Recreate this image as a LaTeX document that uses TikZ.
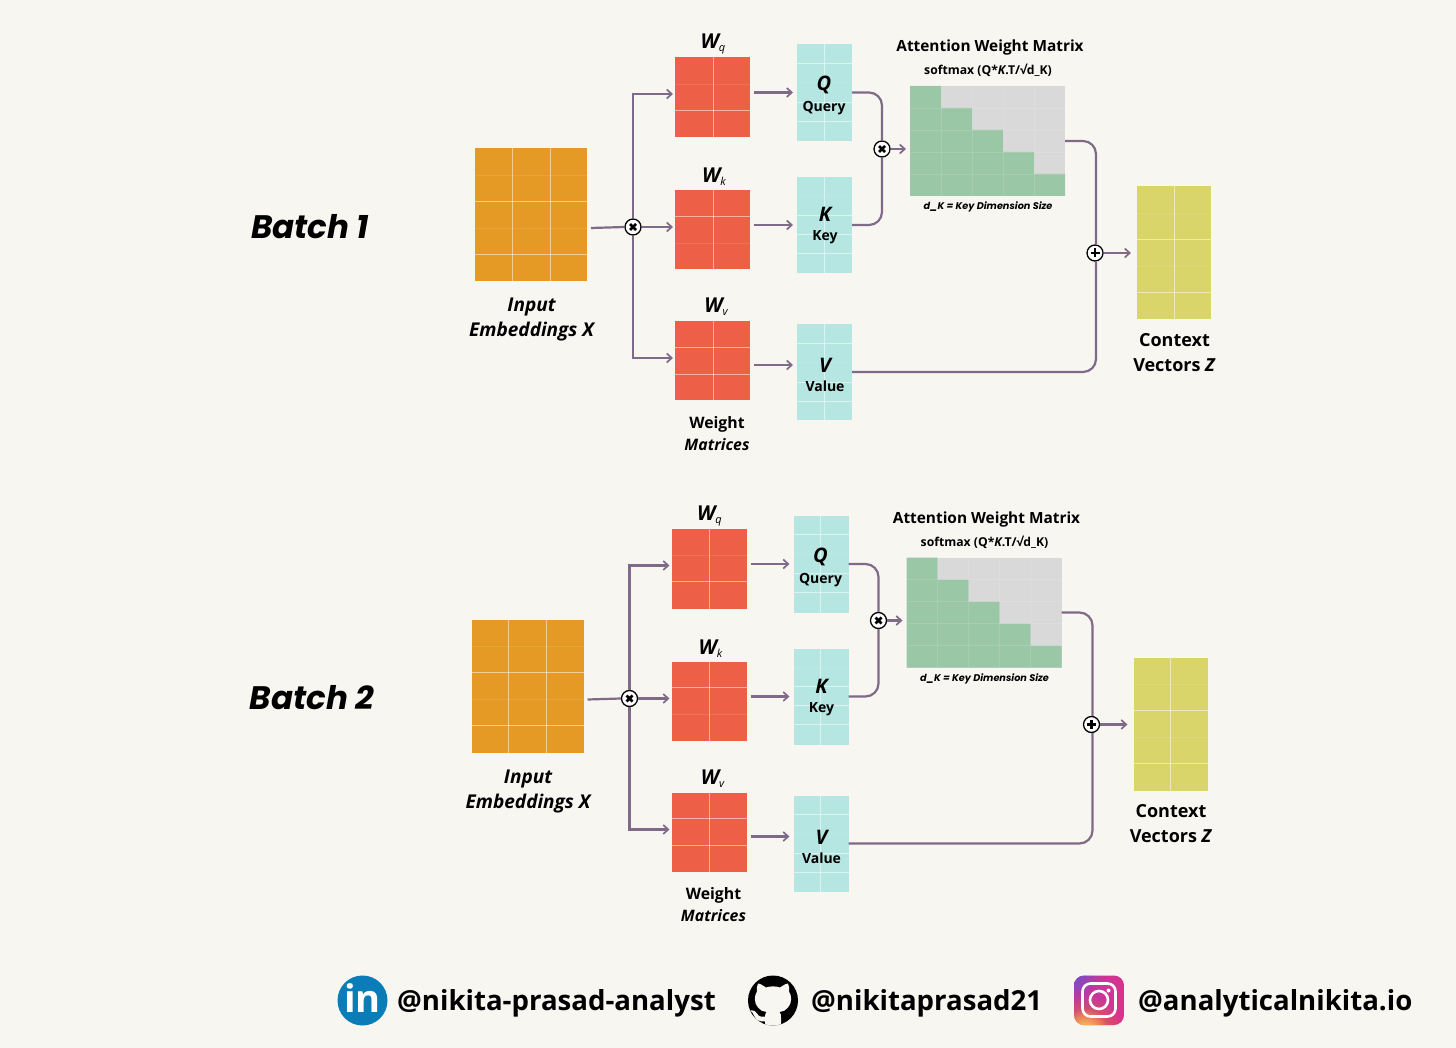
\documentclass[tikz,border=0pt]{standalone}
\usepackage{fontspec}
\setmainfont{Open Sans}
\newfontfamily\popp{Poppins}
\usetikzlibrary{arrows.meta,calc,fadings}
\definecolor{bgc}{HTML}{F8F6F1}
\definecolor{orangec}{HTML}{E59A25}
\definecolor{redc}{HTML}{EE5F47}
\definecolor{cyanc}{HTML}{B5E6E1}
\definecolor{yellowc}{HTML}{D9D56B}
\definecolor{greenc}{HTML}{9AC7A5}
\definecolor{grayc}{HTML}{D9D9D9}
\definecolor{linec}{HTML}{7F6B88}
\definecolor{lkd}{HTML}{0A7DB8}
\definecolor{igpurple}{HTML}{B53BA8}
\definecolor{igpink}{HTML}{D8338C}
\definecolor{igblue}{HTML}{5B55D6}
\definecolor{igyellow}{HTML}{FFD56A}
\tikzfading[name=fadeglow,inner color=transparent!0,outer color=transparent!100]
\tikzset{
  cell/.style={draw=none,inner sep=0pt,outer sep=0pt},
  gridstrong/.style={draw=white,opacity=.5,line width=.9pt},
  gridfaint/.style={draw=white,opacity=.1,line width=.9pt},
  flow/.style={draw=linec,line width=2.2pt,rounded corners=13pt},
  flowto/.style={flow,-{Straight Barb[length=5pt,width=9pt,line width=1.7pt]}},
  opnode/.style={circle,draw=black,fill=white,line width=1.3pt,minimum size=16pt,inner sep=0pt},
  glyph/.style={draw=black,line width=2.6pt},
  lab/.style={inner sep=0pt,text=black,align=center,font=\bfseries\fontsize{16}{22}\selectfont},
  blab/.style={lab,anchor=base},
  ilab/.style={lab,font=\bfseries\itshape\fontsize{19}{25}\selectfont},
  letter/.style={blab,font=\bfseries\itshape\fontsize{20}{24}\selectfont},
  wlab/.style={blab,font=\bfseries\itshape\fontsize{20.5}{24}\selectfont},
  sublab/.style={blab,font=\bfseries\fontsize{14}{18}\selectfont},
  batchlab/.style={lab,font=\popp\bfseries\itshape\fontsize{32.5}{38}\selectfont},
  foot/.style={inner sep=0pt,anchor=base west,text=black,font=\bfseries\fontsize{27.6}{32}\selectfont}
}
% name, x1, y1, x2, y2, colour, verticals, strong horizontals, faint horizontals
\newcommand{\gridbox}[9]{%
  \node[cell,fill=#6,minimum width={(#4-#2)*1pt},minimum height={(#5-#3)*1pt}] (#1) at ({(#2+#4)/2},{(#3+#5)/2}) {};
  \foreach \vv in {#7} {\draw[gridstrong] (\vv,#3) -- (\vv,#5);}
  \foreach \hh in {#8} {\draw[gridstrong] (#2,\hh) -- (#4,\hh);}
  \foreach \hh in {#9} {\draw[gridfaint] (#2,\hh) -- (#4,\hh);}
}
\newcommand{\wsub}[2]{W\raisebox{-2.5pt}{\fontsize{11}{12}\selectfont\mdseries #2}}
\newcommand{\oneBatch}[3]{%
\begin{scope}[shift={(#2,#3)}]
  \gridbox{#1in}{475}{148}{587}{281}{orangec}{512,550}{201,254}{175,228}
  \gridbox{#1wq}{675}{57}{750}{137}{redc}{713}{110}{84}
  \gridbox{#1wk}{675}{190}{750}{269}{redc}{713}{216}{243}
  \gridbox{#1wv}{675}{321}{750}{400}{redc}{713}{347,374}{}
  \gridbox{#1q}{797}{44}{852}{141}{cyanc}{824}{63,102,121}{82}
  \gridbox{#1k}{797}{177}{852}{273}{cyanc}{824}{215,234,253}{196}
  \gridbox{#1v}{797}{324}{852}{420}{cyanc}{824}{343,382,401}{362}
  \gridbox{#1z}{1137}{186}{1211}{319}{yellowc}{1174}{239,292}{213,266}
  \node[cell,fill=grayc,minimum width=155pt,minimum height=110pt] (#1att) at (987.5,141) {};
  \fill[greenc] (910,86) -- (941,86) -- (941,108) -- (972,108) -- (972,130) -- (1003,130) -- (1003,152) -- (1034,152) -- (1034,174) -- (1065,174) -- (1065,196) -- (910,196) -- cycle;
  \foreach \vv in {941,972,1003,1034} {\draw[draw=white,opacity=.12,line width=.7pt] (\vv,86) -- (\vv,196);}
  \foreach \hh in {108,130,152,174} {\draw[draw=white,opacity=.12,line width=.7pt] (910,\hh) -- (1065,\hh);}
  % operators
  \node[opnode] (#1mi) at (633,227) {};
  \node[opnode] (#1ma) at (882,149) {};
  \node[opnode] (#1pl) at (1095,253) {};
  % connectors
  \coordinate (#1iu) at (673,94);
  \coordinate (#1id) at (673,358);
  \coordinate (#1ik) at (673,227);
  \coordinate (#1is) at (591,228);
  \coordinate (#1wqo) at (754,92.5);
  \coordinate (#1wko) at (754,225);
  \coordinate (#1wvo) at (754,365);
  \coordinate (#1vi) at (793,365);
  \coordinate (#1qt) at (882,92.5);
  \coordinate (#1kt) at (882,225);
  \coordinate (#1mo) at (906,149);
  \coordinate (#1at) at (1096,141);
  \coordinate (#1ab) at (1096,372);
  \coordinate (#1zi) at (1131,253);
  \draw[flowto,rounded corners=0pt] (#1mi.north) |- (#1iu);
  \draw[flowto,rounded corners=0pt] (#1mi.south) |- (#1id);
  \draw[flowto] (#1mi.east) -- (#1ik);
  \draw[flow] (#1is) -- (#1mi.west);
  \draw[flowto] (#1wqo) -- ([xshift=-4pt]#1q.west);
  \draw[flowto] (#1wko) -- ([xshift=-4pt]#1k.west);
  \draw[flowto] (#1wvo) -- (#1vi);
  \draw[flow] (#1q.east) -- (#1qt) -- (#1ma.north);
  \draw[flow] (#1k.east) -- (#1kt) -- (#1ma.south);
  \draw[flowto] (#1ma.east) -- (#1mo);
  \draw[flow] (#1att.east) -- (#1at) -- (#1at |- #1pl.north);
  \draw[flow] (#1v.east) -- (#1ab) -- (#1ab |- #1pl.south);
  \draw[flowto] (#1pl.east) -- (#1zi);
  % glyphs
  \draw[glyph] ($(#1mi)+(-3,-3)$) -- ($(#1mi)+(3,3)$) ($(#1mi)+(-3,3)$) -- ($(#1mi)+(3,-3)$);
  \draw[glyph] ($(#1ma)+(-3,-3)$) -- ($(#1ma)+(3,3)$) ($(#1ma)+(-3,3)$) -- ($(#1ma)+(3,-3)$);
  \draw[glyph,line width=2.2pt] ($(#1pl)+(-4.5,0)$) -- ($(#1pl)+(4.5,0)$) ($(#1pl)+(0,-4.5)$) -- ($(#1pl)+(0,4.5)$);
  % labels
  \node[wlab] (#1tq) at (713,49) {\wsub{W}{q}};
  \node[wlab] (#1tk) at (714,183) {\wsub{W}{k}};
  \node[wlab] (#1tv) at (716,313) {\wsub{W}{v}};
  \node[letter] (#1lq) at (824,90.5) {Q};
  \node[sublab] (#1sq) at (824,111.5) {Query};
  \node[letter] (#1lk) at (825,221.5) {K};
  \node[sublab] (#1sk) at (825,240.5) {Key};
  \node[letter] (#1lv) at (825,372.5) {V};
  \node[sublab] (#1sv) at (825,391.5) {Value};
  \node[ilab] (#1tin) at (531.5,319.5) {Input\\Embeddings X};
  \node[lab,font=\bfseries\fontsize{15.8}{22}\selectfont] (#1tw) at (717,433.5) {Weight\\\textit{Matrices}};
  \node[lab,font=\bfseries\fontsize{18}{25}\selectfont] (#1tz) at (1174.5,352.5) {Context\hspace{4pt}\\Vectors \textit{Z}};
  \node[blab,font=\bfseries\fontsize{15.4}{18}\selectfont] (#1ta) at (990,52) {Attention Weight Matrix};
  \node[blab,font=\bfseries\fontsize{12.2}{14}\selectfont] (#1ts) at (988,75) {softmax (Q*\textit{K}.T/√d\_K)};
  \node[blab,font=\popp\bfseries\itshape\fontsize{9.7}{11}\selectfont] (#1td) at (988,210) {d\_K = Key Dimension Size};
\end{scope}}
\begin{document}
\begin{tikzpicture}[x=1pt,y=-1pt]
\useasboundingbox (0,0) rectangle (1456,1048);
\fill[bgc] (0,0) rectangle (1456,1048);
\oneBatch{a}{0}{0}
\oneBatch{b}{-3.5}{471.5}
\node[batchlab] (bl1) at (310,227) {Batch 1};
\node[batchlab] (bl2) at (312,698) {Batch 2};
% footer: LinkedIn
\node[circle,fill=lkd,minimum size=50pt,inner sep=0pt] (lin) at (362.5,1000.5) {};
\node[inner sep=0pt,text=white,font=\bfseries\fontsize{38}{40}\selectfont] (lint) at (362.5,998.5) {in};
\node[foot] (f1) at (397,1010) {@nikita-prasad-analyst};
% footer: GitHub
\node[circle,fill=black,minimum size=50pt,inner sep=0pt] (ghb) at (773,1000.5) {};
\begin{scope}[shift={(773,1000.5)}]
  \clip (0,0) circle (25);
  \fill[bgc] (-15,-17) .. controls (-13,-17) and (-10,-15) .. (-7,-13) .. controls (-3,-14.5) and (3,-14.5) .. (7,-13) .. controls (10,-15) and (13,-17) .. (15,-17) .. controls (16.5,-14) and (16.5,-11) .. (16,-9) .. controls (19,-5) and (19,3) .. (15,7) .. controls (13,10) and (10,11) .. (6.5,11.5) .. controls (8,13) and (8,15) .. (8,17) -- (8,25.5) -- (-8,25.5) -- (-8,21) .. controls (-14,21) and (-17,20) .. (-19,15) .. controls (-20,12.5) and (-21,11) .. (-23,10) .. controls (-19,9.5) and (-17,11) .. (-16,13) .. controls (-14,16.5) and (-11,16.5) .. (-8,16) .. controls (-8,14) and (-7.5,12.5) .. (-6.5,11.5) .. controls (-10,11) and (-13,10) .. (-15,7) .. controls (-19,3) and (-19,-5) .. (-16,-9) .. controls (-16.5,-11) and (-16.5,-14) .. (-15,-17) -- cycle;
\end{scope}
\node[foot] (f2) at (811,1010) {@nikitaprasad21};
% footer: Instagram
\begin{scope}
  \clip[rounded corners=10pt] (1074,975.5) rectangle (1124,1025);
  \shade[left color=igpurple,right color=igpink] (1074,975) rectangle (1124,1026);
  \fill[igblue,path fading=fadeglow,opacity=.9] (1072,970) circle (28);
  \fill[orange,path fading=fadeglow,opacity=.9] (1085,1035) circle (40);
  \fill[igyellow,path fading=fadeglow] (1085,1032) circle (24);
\end{scope}
\node[draw=white,line width=2.6pt,rounded corners=8pt,minimum size=33pt,inner sep=0pt] (igo) at (1099,1000) {};
\node[circle,draw=white,line width=2.6pt,minimum size=18pt,inner sep=0pt] (igc) at (1099,1000) {};
\node[circle,fill=white,minimum size=4pt,inner sep=0pt] (igd) at (1108.5,990.5) {};
\node[foot] (f3) at (1138,1010) {@analyticalnikita.io};
\end{tikzpicture}
\end{document}
